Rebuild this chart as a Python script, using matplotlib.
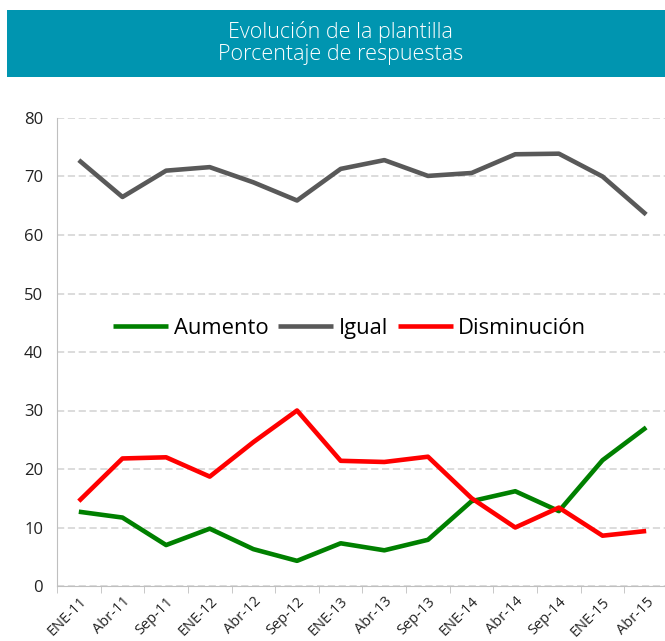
import numpy as np
import matplotlib.pyplot as plt
from matplotlib.patches import Rectangle

plt.rcParams['font.family'] = ['Open Sans', 'DejaVu Sans']

# Datos
periodos = ['ENE-11', 'Abr-11', 'Sep-11', 'ENE-12', 'Abr-12', 'Sep-12', 'ENE-13',
            'Abr-13', 'Sep-13', 'ENE-14', 'Abr-14', 'Sep-14', 'ENE-15', 'Abr-15']
aumento = [12.7, 11.7, 7.0, 9.8, 6.3, 4.3, 7.3, 6.1, 7.9, 14.5, 16.2, 12.8, 21.5, 27.1]
igual = [72.8, 66.5, 71.0, 71.6, 69.0, 65.9, 71.3, 72.8, 70.1, 70.6, 73.8, 73.9, 70.0, 63.5]
disminucion = [14.5, 21.8, 22.0, 18.7, 24.6, 30.0, 21.4, 21.2, 22.1, 15.0, 10.0, 13.4, 8.6, 9.4]

fig = plt.figure(figsize=(6.65, 6.41), dpi=100)

# Banda del titulo
fig.patches.append(Rectangle((7 / 665, 1 - 77 / 641), 1 - 7 / 665, 67 / 641,
                             transform=fig.transFigure, facecolor='#0095B0',
                             edgecolor='none'))
fig.text(0.512, 1 - 43 / 641, 'Evolución de la plantilla\nPorcentaje de respuestas',
         ha='center', va='center', color='white', fontsize=15.5, linespacing=1.1,
         fontweight='light')

ax = fig.add_axes([57 / 665, 1 - 586 / 641, 611 / 665, 468 / 641])
x = np.arange(len(periodos))
ax.plot(x, aumento, color='#008000', lw=3.3, label='Aumento', solid_capstyle='butt')
ax.plot(x, igual, color='#595959', lw=3.3, label='Igual', solid_capstyle='butt')
ax.plot(x, disminucion, color='#FF0000', lw=3.3, label='Disminución', solid_capstyle='butt')

ax.set_xlim(-0.5, 13.5)
ax.set_ylim(0, 80)
ax.set_yticks(range(0, 81, 10))
ax.yaxis.grid(True, color='#D9D9D9', linestyle=(0, (4, 2)), lw=1.3)
ax.set_axisbelow(True)

ax.set_xticks(x)
ax.set_xticklabels(periodos, rotation=45, ha='right', rotation_mode='anchor',
                   fontsize=10.5, color='#222222')
ax.tick_params(axis='x', length=0, pad=6)
ax.set_xticks(np.arange(-0.5, 14, 1), minor=True)
ax.tick_params(axis='x', which='minor', length=5, color='#BFBFBF', direction='out')
ax.tick_params(axis='y', length=0, labelsize=12, pad=10, labelcolor='#222222')

for s in ['top', 'right']:
    ax.spines[s].set_visible(False)
ax.spines['left'].set_color('#BFBFBF')
ax.spines['bottom'].set_color('#BFBFBF')

ax.legend(loc='center', bbox_to_anchor=(0.479, 0.55), ncol=3, frameon=False,
          fontsize=15.8, handlelength=2.5, columnspacing=0.45, handletextpad=0.25)

fig.savefig('out.png', dpi=100)
